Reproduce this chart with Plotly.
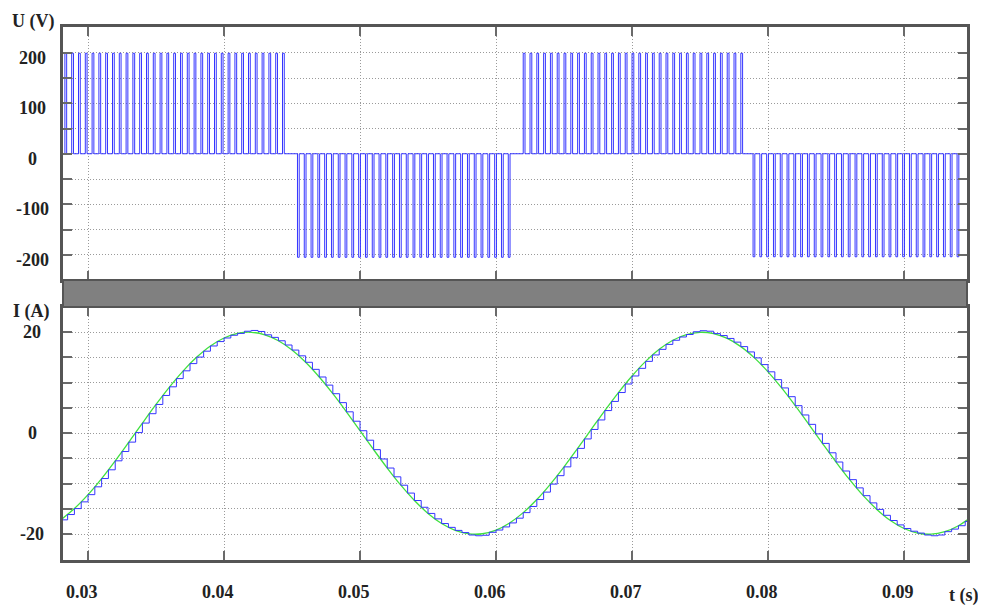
import plotly.graph_objects as go

# ---------------- data ----------------
# time axis (s)
T_RANGE = [0.02816, 0.09463]
X_TICKS = [0.03, 0.04, 0.05, 0.06, 0.07, 0.08, 0.09]
X_TICK_TEXT = ["0.03", "0.04", "0.05", "0.06", "0.07", "0.08", "0.09"]

# PWM voltage: half-cycle blocks of pulses (start, end, pulse level)
U_BLOCK_START = [0.0283, 0.0454, 0.0620, 0.0789]
U_BLOCK_END = [0.0446, 0.0610, 0.0780, 0.0941]
U_BLOCK_LEVEL = [199, -205, 199, -204]
SWITCH_PERIOD = 0.0005
PULSE_WIDTH = 0.00013

U_TICKS = [-200, -150, -100, -50, 0, 50, 100, 150, 200]
U_LABELS = [200, 100, 0, -100, -200]

# current: reference (green) sampled every 1 ms from 0.028 s
I_REF_T0 = 0.028
I_REF_STEP = 0.001
I_REF = [-17.15, -14.92, -12.16, -8.97, -5.46, -1.76, 2.01, 5.70, 9.19, 12.36,
         15.08, 17.28, 18.86, 19.77, 19.99, 19.49, 18.31, 16.47, 14.05, 11.14,
         7.83, 4.24, 0.50, -3.25, -6.89, -10.29, -13.32, -15.88, -17.88, -19.24,
         -19.92, -19.90, -19.17, -17.76, -15.72, -13.13, -10.07, -6.66, -3.00, 0.75,
         4.49, 8.06, 11.34, 14.23, 16.61, 18.41, 19.55, 19.99, 19.73, 18.77,
         17.15, 14.92, 12.16, 8.97, 5.46, 1.76, -2.01, -5.70, -9.19, -12.36,
         -15.08, -17.28, -18.86, -19.77, -19.99, -19.49, -18.31, -16.47]

# measured current (blue) sampled every switching period (0.5 ms) from 0.028 s
I_MEAS_T0 = 0.028
I_MEAS_STEP = 0.0005
I_MEAS = [-17.15, -16.10, -14.92, -13.59, -12.16, -10.61, -8.97, -7.24, -5.46, -3.62,
          -1.76, 0.13, 2.01, 3.87, 5.70, 7.48, 9.19, 10.82, 12.36, 13.79,
          15.08, 16.25, 17.28, 18.15, 18.86, 19.40, 19.77, 20.20, 20.35, 20.15,
          19.49, 18.98, 18.31, 17.47, 16.47, 15.33, 14.05, 12.65, 11.14, 9.53,
          7.83, 6.06, 4.24, 2.38, 0.50, -1.38, -3.25, -5.10, -6.89, -8.63,
          -10.29, -11.85, -13.32, -14.66, -15.88, -16.95, -17.88, -18.64, -19.24, -19.67,
          -20.15, -20.30, -20.20, -19.62, -19.17, -18.55, -17.76, -16.82, -15.72, -14.50,
          -13.13, -11.66, -10.07, -8.40, -6.66, -4.85, -3.00, -1.13, 0.75, 2.63,
          4.49, 6.30, 8.06, 9.75, 11.34, 12.85, 14.23, 15.50, 16.61, 17.59,
          18.41, 19.06, 19.55, 20.10, 20.30, 20.20, 19.73, 19.34, 18.77, 18.04,
          17.15, 16.10, 14.92, 13.59, 12.16, 10.61, 8.97, 7.24, 5.46, 3.62,
          1.76, -0.13, -2.01, -3.87, -5.70, -7.48, -9.19, -10.82, -12.36, -13.79,
          -15.08, -16.25, -17.28, -18.15, -18.86, -19.40, -19.77, -20.15, -20.30, -20.15,
          -19.49, -18.98, -18.31, -17.47, -16.47]

I_TICKS = [-20, -15, -10, -5, 0, 5, 10, 15, 20]
I_LABELS = [20, 0, -20]

# ---------------- build traces ----------------
ux, uy = [T_RANGE[0], U_BLOCK_START[0]], [0, 0]
for s, e, lev in zip(U_BLOCK_START, U_BLOCK_END, U_BLOCK_LEVEL):
    k = 0
    while s + k * SWITCH_PERIOD <= e + 1e-9:
        t = s + k * SWITCH_PERIOD
        ux += [t, t, t + PULSE_WIDTH, t + PULSE_WIDTH]
        uy += [0, lev, lev, 0]
        k += 1
ux.append(T_RANGE[1])
uy.append(0)

t_ref = [I_REF_T0 + i * I_REF_STEP for i in range(len(I_REF))]
t_meas = [I_MEAS_T0 + i * I_MEAS_STEP for i in range(len(I_MEAS))]

BLUE = "#3535ff"
GREEN = "#3fe03f"

fig = go.Figure()
fig.add_trace(go.Scatter(x=ux, y=uy, xaxis="x", yaxis="y", mode="lines",
                         line=dict(color=BLUE, width=1), hoverinfo="skip"))
fig.add_trace(go.Scatter(x=t_ref, y=I_REF, xaxis="x2", yaxis="y2", mode="lines",
                         line=dict(color=GREEN, width=1.3, shape="spline")))
fig.add_trace(go.Scatter(x=t_meas, y=I_MEAS, xaxis="x2", yaxis="y2", mode="lines",
                         line=dict(color=BLUE, width=1, shape="hv")))

FRAME = "#555555"
axis_common = dict(showline=True, linecolor=FRAME, linewidth=3, mirror="ticks",
                   ticks="inside", ticklen=9, tickwidth=2, tickcolor="#6a6a6a",
                   showgrid=True, gridcolor="#9a9a9a", griddash="1px,2px", gridwidth=1,
                   zeroline=False, showticklabels=False)

TOP_DOMAIN = [0.5253, 1.0]
BOT_DOMAIN = [0.0, 0.4747]

# the page body adds an 8px offset; figure size/margins compensate for it
fig.update_layout(
    width=978, height=602,
    margin=dict(l=55, r=19, t=19, b=50),
    paper_bgcolor="white", plot_bgcolor="white",
    showlegend=False,
    xaxis=dict(domain=[0, 1], anchor="y", range=T_RANGE, tickvals=X_TICKS, **axis_common),
    yaxis=dict(domain=TOP_DOMAIN, anchor="x", range=[-250, 251], tickvals=U_TICKS, **axis_common),
    xaxis2=dict(domain=[0, 1], anchor="y2", range=T_RANGE, tickvals=X_TICKS, matches="x", **axis_common),
    yaxis2=dict(domain=BOT_DOMAIN, anchor="x2", range=[-25.1, 25], tickvals=I_TICKS, **axis_common),
)

# gray separator band between the two panels
fig.add_shape(type="rect", xref="paper", yref="paper", x0=0, x1=1,
              y0=BOT_DOMAIN[1], y1=TOP_DOMAIN[0],
              fillcolor="#808080", line=dict(color="#555555", width=2), layer="above")

FONT = dict(family="Liberation Serif", size=18, color="#222222", weight="bold")
ann = []
for v in U_LABELS:
    ann.append(dict(x=-0.034, xref="paper", y=v, yref="y", text=str(v), showarrow=False,
                    xanchor="center", yanchor="middle", yshift=-5, font=FONT))
for v in I_LABELS:
    ann.append(dict(x=-0.034, xref="paper", y=v, yref="y2", text=str(v), showarrow=False,
                    xanchor="center", yanchor="middle", font=FONT))
for v, txt in zip(X_TICKS, X_TICK_TEXT):
    ann.append(dict(x=v, xref="x2", y=-0.060, yref="paper", text=txt, showarrow=False,
                    xanchor="center", yanchor="middle", xshift=-6, font=FONT))
ann.append(dict(x=0.9967, xref="paper", y=-0.066, yref="paper", text="t (s)", showarrow=False,
                xanchor="center", yanchor="middle", font=FONT))
ann.append(dict(x=-0.033, xref="paper", y=1.0094, yref="paper", text="U (V)", showarrow=False,
                xanchor="center", yanchor="middle", font=FONT))
ann.append(dict(x=-0.035, xref="paper", y=0.467, yref="paper", text="I (A)", showarrow=False,
                xanchor="center", yanchor="middle", font=FONT))
fig.update_layout(annotations=ann)

fig.write_html("out.html")
